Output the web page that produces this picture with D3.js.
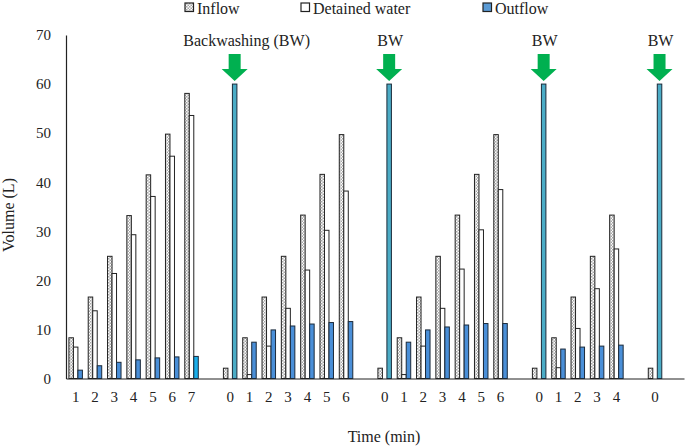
<!DOCTYPE html>
<html>
<head>
<meta charset="utf-8">
<script src="https://cdn.jsdelivr.net/npm/d3@7"></script>
<style>
  body { margin: 0; background: #fff; }
  text { font-family: "Liberation Serif", "Times New Roman", serif; fill: #222; }
</style>
</head>
<body>
<script>
// time labels, "" = empty slot between backwashing cycles
const timeLabels = ["1","2","3","4","5","6","7","",
    "0","1","2","3","4","5","6","",
    "0","1","2","3","4","5","6","",
    "0","1","2","3","4","",
    "0",""];
const inflow = [8.3,16.6,24.9,33.2,41.5,49.8,58.1,null,
    2.1,8.3,16.6,24.9,33.3,41.6,49.7,null,
    2.1,8.3,16.6,24.9,33.3,41.6,49.7,null,
    2.1,8.3,16.6,24.9,33.3,null,
    2.1,null];
const detained = [6.4,13.8,21.4,29.3,37.1,45.3,53.6,null,
    0,0.8,6.6,14.3,22.1,30.2,38.2,null,
    0,0.8,6.6,14.3,22.3,30.3,38.5,null,
    0,2.2,10.2,18.3,26.4,null,
    0,null];
const outflow = [1.7,2.6,3.3,3.8,4.2,4.4,4.5,null,
    60,7.4,9.9,10.7,11.1,11.4,11.6,null,
    60,7.4,9.9,10.5,10.9,11.2,11.2,null,
    60,6.0,6.4,6.6,6.8,null,
    60,null];
const bwLabels = ["Backwashing (BW)", "BW", "BW", "BW"];
const seriesNames = ["Inflow", "Detained water", "Outflow"];

const width = 685, height = 448;
const svg = d3.select("body").append("svg")
    .attr("width", width)
    .attr("height", height);

const defs = svg.append("defs");
const pat = defs.append("pattern")
    .attr("id", "checker")
    .attr("patternUnits", "userSpaceOnUse")
    .attr("width", 3).attr("height", 3);
pat.append("rect").attr("width", 3).attr("height", 3).attr("fill", "#fff");
pat.append("rect").attr("width", 1.5).attr("height", 1.5).attr("fill", "#a6a6a6");
pat.append("rect").attr("x", 1.5).attr("y", 1.5).attr("width", 1.5).attr("height", 1.5).attr("fill", "#a6a6a6");

const x = d3.scaleBand()
    .domain(d3.range(timeLabels.length))
    .range([66, 684])
    .padding(0);

const bw = x.bandwidth();
const grp = 13.5;
const xs = d3.scaleBand()
    .domain(["inflow", "detained", "outflow"])
    .range([(bw - grp) / 2, (bw + grp) / 2]);

const y = d3.scaleLinear()
    .domain([0, 70])
    .range([378.5, 35]);

// axes
const yAxis = svg.append("g")
    .attr("transform", "translate(66,0)")
    .call(d3.axisLeft(y).tickValues(d3.range(0, 71, 10)).tickSize(0).tickPadding(15));
yAxis.select(".domain").attr("stroke", "#222").attr("stroke-width", 1.2);
yAxis.selectAll("text").style("font-size", "15px").attr("font-family", null);

const xAxis = svg.append("g")
    .attr("transform", "translate(0," + y(0) + ")")
    .call(d3.axisBottom(x).tickFormat(i => timeLabels[i]).tickSize(0).tickSizeOuter(0).tickPadding(13));
xAxis.select(".domain").attr("stroke", "#222").attr("stroke-width", 1.2);
xAxis.selectAll("text").style("font-size", "15px").attr("font-family", null);

function outColor(i) {
    if (outflow[i] >= 60) return "#4bacc6";
    if (timeLabels[i] === "7") return "#1aaeea";
    return "#4a8fd8";
}

const idx = d3.range(timeLabels.length).filter(i => timeLabels[i] !== "");

// bars
const bars = svg.append("g");
bars.selectAll("rect.in")
    .data(idx.filter(i => inflow[i] > 0))
    .join("rect")
    .attr("class", "in")
    .attr("x", i => x(i) + xs("inflow"))
    .attr("width", xs.bandwidth())
    .attr("y", i => y(inflow[i]))
    .attr("height", i => y(0) - y(inflow[i]))
    .attr("fill", "url(#checker)")
    .attr("stroke", "#222").attr("stroke-width", 1);

bars.selectAll("rect.det")
    .data(idx.filter(i => detained[i] > 0))
    .join("rect")
    .attr("class", "det")
    .attr("x", i => x(i) + xs("detained"))
    .attr("width", xs.bandwidth())
    .attr("y", i => y(detained[i]))
    .attr("height", i => y(0) - y(detained[i]))
    .attr("fill", "#fff")
    .attr("stroke", "#222").attr("stroke-width", 1);

bars.selectAll("rect.out")
    .data(idx.filter(i => outflow[i] > 0))
    .join("rect")
    .attr("class", "out")
    .attr("x", i => x(i) + xs("outflow"))
    .attr("width", xs.bandwidth())
    .attr("y", i => y(outflow[i]))
    .attr("height", i => y(0) - y(outflow[i]))
    .attr("fill", outColor)
    .attr("stroke", "#1b2a3a").attr("stroke-width", 1);

// backwashing arrows and labels
const bwIdx = idx.filter(i => outflow[i] >= 60);
const arrowG = svg.append("g");
bwIdx.forEach((i, k) => {
    const cx = x(i) + xs("outflow") + xs.bandwidth() / 2;
    const tip = y(outflow[i]) - 3;
    const headY = tip - 12, top = tip - 27;
    arrowG.append("path")
        .attr("d", `M${cx - 6},${top} L${cx + 6},${top} L${cx + 6},${headY} L${cx + 13},${headY} L${cx},${tip} L${cx - 13},${headY} L${cx - 6},${headY} Z`)
        .attr("fill", "#00b050");
    arrowG.append("text")
        .attr("x", k === 0 ? cx + 12 : cx + 1)
        .attr("y", top - 8)
        .attr("text-anchor", "middle")
        .style("font-size", "16px")
        .text(bwLabels[k]);
});

// axis titles
svg.append("text")
    .attr("transform", "translate(14,215) rotate(-90)")
    .attr("text-anchor", "middle")
    .style("font-size", "16px")
    .text("Volume (L)");
svg.append("text")
    .attr("x", 384).attr("y", 442)
    .attr("text-anchor", "middle")
    .style("font-size", "16px")
    .text("Time (min)");

// legend
const legendX = [185, 301, 483];
const legendFill = ["url(#checker)", "#fff", "#5b9bd5"];
const legend = svg.append("g");
seriesNames.forEach((name, k) => {
    legend.append("rect")
        .attr("x", legendX[k]).attr("y", 3)
        .attr("width", 8.5).attr("height", 8.5)
        .attr("fill", legendFill[k])
        .attr("stroke", "#222").attr("stroke-width", 1.2);
    legend.append("text")
        .attr("x", legendX[k] + 12).attr("y", 14)
        .style("font-size", "16px")
        .text(name);
});
</script>
</body>
</html>
